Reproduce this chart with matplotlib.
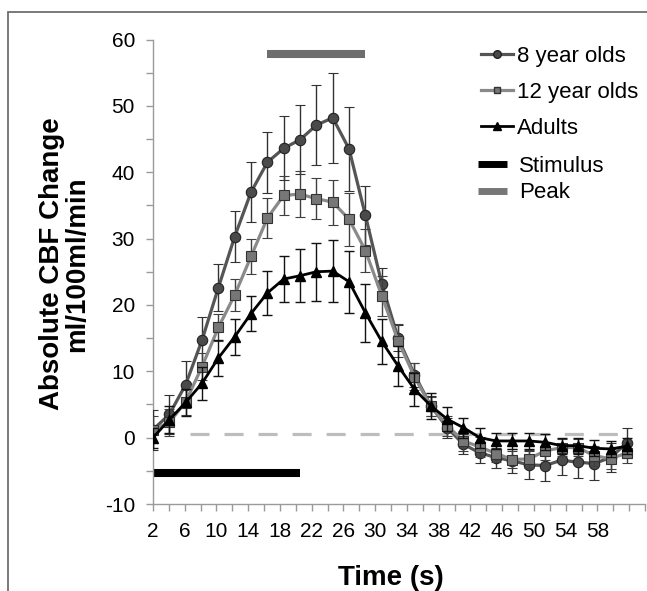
import numpy as np
import matplotlib.pyplot as plt
from matplotlib.patches import Rectangle
from matplotlib.lines import Line2D

plt.rcParams['font.family'] = ['Liberation Sans', 'DejaVu Sans']
plt.rcParams['lines.scale_dashes'] = False
plt.rcParams['axes.unicode_minus'] = False

# ===== data =====
time_s = [2, 4, 6, 8, 10, 12, 14, 16, 18, 20, 22, 24, 26, 28, 30,
          32, 34, 36, 38, 40, 42, 44, 46, 48, 50, 52, 54, 56, 58, 60]

yr8 = [1.2, 3.5, 8.0, 14.7, 22.6, 30.3, 37.0, 41.5, 43.6, 44.9, 47.1, 48.2, 43.5, 33.5, 23.2,
       15.0, 9.5, 4.8, 1.5, -1.0, -2.3, -3.0, -3.5, -4.1, -4.2, -3.4, -3.7, -3.9, -3.0, -0.8]
yr8_err = [3.0, 3.0, 3.5, 3.5, 3.5, 3.9, 4.5, 4.6, 4.8, 5.2, 6.0, 6.8, 6.3, 4.4, 2.4,
           2.0, 1.8, 1.5, 1.5, 1.5, 1.5, 1.5, 1.8, 2.1, 2.4, 2.3, 2.4, 2.5, 2.2, 2.3]

yr12 = [1.2, 2.3, 5.4, 10.7, 16.6, 21.5, 27.3, 33.1, 36.5, 36.7, 36.0, 35.5, 32.9, 28.2, 21.4,
        14.6, 9.2, 4.7, 1.8, -0.5, -1.4, -2.4, -3.3, -3.2, -2.0, -1.5, -1.5, -2.7, -3.2, -2.3]
yr12_err = [2.0, 2.0, 2.0, 2.0, 2.0, 2.4, 2.7, 3.0, 2.9, 3.5, 3.1, 3.4, 4.0, 3.3, 3.0,
            2.5, 2.0, 1.5, 1.5, 1.5, 1.5, 1.3, 1.3, 1.3, 1.3, 1.3, 1.3, 1.5, 1.5, 1.5]

adults = [0.0, 2.7, 5.3, 8.2, 12.0, 15.2, 18.7, 21.8, 23.9, 24.4, 25.0, 25.1, 23.5, 18.8, 14.5,
          10.8, 7.3, 4.8, 2.8, 1.5, 0.0, -0.5, -0.5, -0.5, -0.7, -1.2, -1.2, -1.6, -1.7, -1.3]
adults_err = [1.5, 2.0, 2.0, 2.5, 2.7, 2.7, 2.7, 3.3, 3.4, 4.0, 4.4, 4.7, 4.7, 4.4, 3.4,
              3.0, 2.5, 2.0, 1.8, 1.5, 1.5, 1.2, 1.2, 1.2, 1.2, 1.2, 1.2, 1.2, 1.2, 1.2]

stimulus = [2, 20]
peak = [16, 28]
x_tick_labels = ['2', '6', '10', '14', '18', '22', '26', '30', '34', '38', '42', '46', '50', '54', '58']

# ===== figure =====
W, H = 647, 591
fig = plt.figure(figsize=(W / 100, H / 100), dpi=100)
ax = fig.add_axes([153 / W, 1 - 504 / H, 492 / W, 464.5 / H])

# chart-area border (Excel style)
fig.patches.append(Rectangle((8 / W, -0.1), 1.2, 1.1 - 12 / H, transform=fig.transFigure,
                             fill=False, ec='#6e6e6e', lw=1.3))

# baseline and bars
ax.plot([6.5, 59.5], [0.5, 0.5], color='#bdbdbd', lw=2.3, dashes=(13.7, 10.8), zorder=1)
ax.plot(stimulus, [-5.4, -5.4], color='black', lw=5.8, solid_capstyle='butt', zorder=2)
ax.plot(peak, [57.8, 57.8], color='#6e6e6e', lw=5.8, solid_capstyle='butt', zorder=2)

ax.errorbar(time_s, yr8, yerr=yr8_err, color='#555555', lw=2.3, marker='o', ms=7.5,
            mfc='#4a4a4a', mec='#222222', mew=0.8, ecolor='#333333', elinewidth=1.0,
            capsize=3.4, capthick=1.0, zorder=3)
ax.errorbar(time_s, yr12, yerr=yr12_err, color='#8a8a8a', lw=2.3, marker='s', ms=7.0,
            mfc='#777777', mec='#333333', mew=0.8, ecolor='#404040', elinewidth=1.0,
            capsize=3.4, capthick=1.0, zorder=4)
ax.errorbar(time_s, adults, yerr=adults_err, color='black', lw=2.0, marker='^', ms=7.5,
            mfc='black', mec='black', ecolor='#111111', elinewidth=1.0,
            capsize=3.4, capthick=1.0, zorder=5)

# axes
ax.set_xlim(2, 2 + 492 / 8.185)
ax.set_ylim(-10, 60)
tick_step = 2 * 15.9 / 16.37
xt = [2 + i * tick_step for i in range(32)]
ax.set_xticks(xt)
labels = [''] * 32
for i, lab in enumerate(x_tick_labels):
    labels[2 * i] = lab
ax.set_xticklabels(labels)
ax.set_yticks(np.arange(-10, 61, 10))
ax.set_yticks(np.arange(-10, 61, 5), minor=True)

for s in ['top', 'right']:
    ax.spines[s].set_visible(False)
for s in ['left', 'bottom']:
    ax.spines[s].set_color('#9a9a9a')
    ax.spines[s].set_linewidth(1.0)
ax.tick_params(axis='both', which='both', color='#9a9a9a', width=1.0, length=5,
               labelsize=15, pad=8)

ax.set_xlabel('Time (s)', fontsize=20, fontweight='bold')
ax.xaxis.set_label_coords(0.484, -0.131)
ax.set_ylabel('Absolute CBF Change\nml/100ml/min', fontsize=20, fontweight='bold',
              linespacing=0.95)
ax.yaxis.set_label_coords(-0.128, 0.517)

# legend
h8 = Line2D([], [], color='#555555', lw=2.3, marker='o', ms=5.5, mfc='#4a4a4a', mec='#222222')
h12 = Line2D([], [], color='#8a8a8a', lw=2.3, marker='s', ms=5.0, mfc='#777777', mec='#333333')
had = Line2D([], [], color='black', lw=2.0, marker='^', ms=5.5)
leg1 = ax.legend([h8, h12, had], ['8 year olds', '12 year olds', 'Adults'],
                 loc='upper left', bbox_to_anchor=(481 / W, 1 - 46 / H),
                 bbox_transform=fig.transFigure, frameon=False, fontsize=16,
                 handlelength=1.45, handletextpad=0.15, labelspacing=0.68,
                 borderpad=0, borderaxespad=0, numpoints=1)
ax.add_artist(leg1)
hs = Line2D([], [], color='black', lw=5.0, solid_capstyle='butt')
hp = Line2D([], [], color='#777777', lw=5.0, solid_capstyle='butt')
ax.legend([hs, hp], ['Stimulus', 'Peak'], loc='upper left',
          bbox_to_anchor=(478 / W, 1 - 156 / H), bbox_transform=fig.transFigure,
          frameon=False, fontsize=16, handlelength=1.3, handletextpad=0.55,
          labelspacing=0.24, borderpad=0, borderaxespad=0)

fig.savefig('out.png', dpi=100)
